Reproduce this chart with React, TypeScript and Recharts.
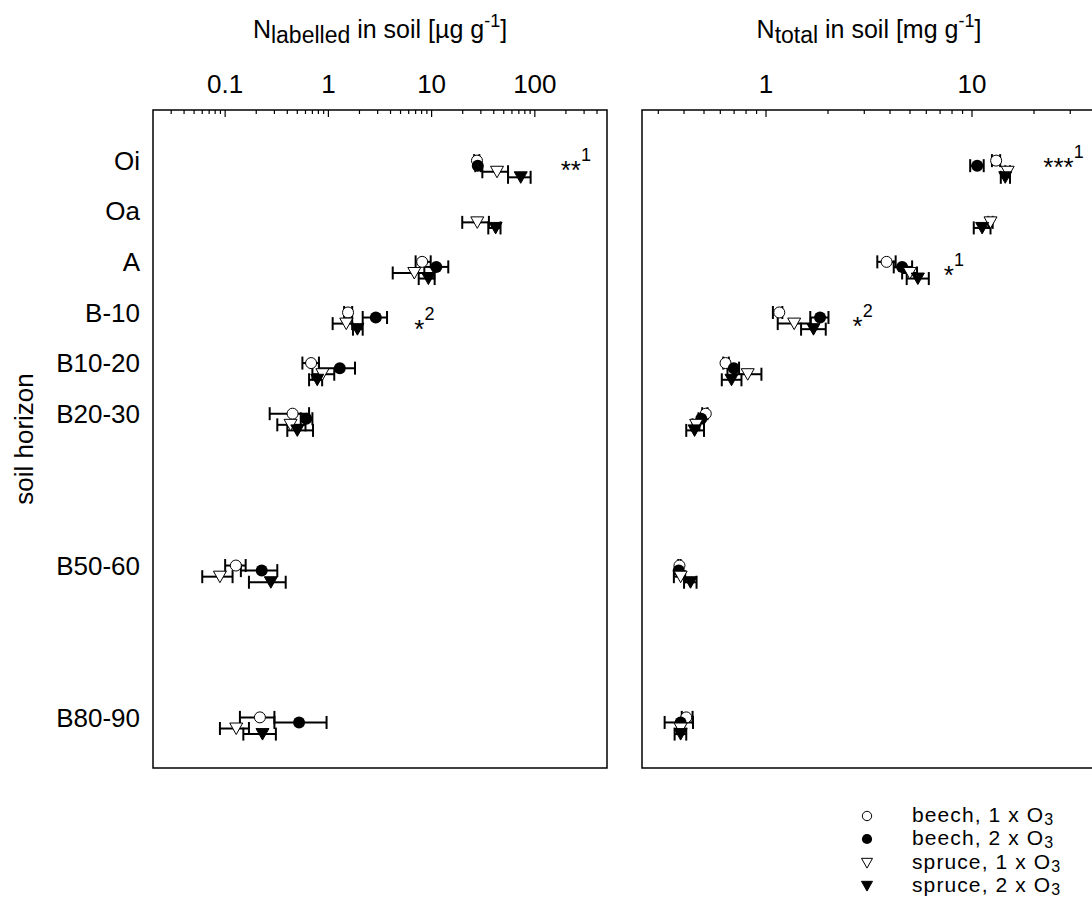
import { ErrorBar, ReferenceArea, Scatter, ScatterChart, XAxis, YAxis } from 'recharts';

const FONT = '"Liberation Sans", Arial, Helvetica, sans-serif';

// soil horizons and their position down the profile
const horizons = ['Oi', 'Oa', 'A', 'B-10', 'B10-20', 'B20-30', 'B50-60', 'B80-90'];
const horizonPos = [0, 1, 2, 3, 4, 5, 8, 11];

type Stat = [number, number, number] | null; // mean, lower, upper

// N labelled in soil [µg g-1]
const labBeech1: Stat[] = [[27.5, 25.8, 29], null, [8.1, 7.0, 9.8], [1.55, 1.42, 1.7], [0.68, 0.56, 0.81], [0.45, 0.27, 0.65], [0.127, 0.1, 0.158], [0.217, 0.139, 0.3]];
const labBeech2: Stat[] = [[28, 26.5, 30], null, [11.1, 8.5, 14.5], [2.88, 2.15, 3.7], [1.29, 0.81, 1.81], [0.61, 0.54, 0.7], [0.226, 0.142, 0.32], [0.52, 0.3, 0.96]];
const labSpruce1: Stat[] = [[43, 31, 55], [27.7, 19.8, 35.9], [6.8, 4.2, 10.6], [1.49, 1.1, 1.7], [0.875, 0.7, 1.14], [0.43, 0.32, 0.6], [0.089, 0.06, 0.118], [0.128, 0.089, 0.17]];
const labSpruce2: Stat[] = [[73, 55, 91], [41.7, 35.4, 46.5], [9.3, 7.5, 10.7], [1.91, 1.73, 2.15], [0.78, 0.65, 0.87], [0.5, 0.4, 0.71], [0.277, 0.17, 0.386], [0.23, 0.15, 0.31]];

// N total in soil [mg g-1]
const totBeech1: Stat[] = [[13.1, 12.5, 13.7], null, [3.85, 3.47, 4.26], [1.16, 1.08, 1.2], [0.636, 0.62, 0.66], [0.51, 0.49, 0.52], [0.38, 0.375, 0.385], [0.41, 0.39, 0.44]];
const totBeech2: Stat[] = [[10.6, 9.8, 11.4], null, [4.58, 4.17, 5.12], [1.83, 1.64, 2.01], [0.698, 0.65, 0.74], [0.485, 0.47, 0.5], [0.377, 0.37, 0.385], [0.385, 0.322, 0.442]];
const totSpruce1: Stat[] = [[14.9, 14.5, 15.3], [12.3, 12.0, 12.6], [4.99, 4.58, 5.41], [1.37, 1.14, 1.65], [0.815, 0.69, 0.95], [0.458, 0.44, 0.475], [0.385, 0.357, 0.405], [0.385, 0.37, 0.4]];
const totSpruce2: Stat[] = [[14.5, 13.8, 15.3], [11.2, 10.2, 12.3], [5.46, 4.82, 6.17], [1.7, 1.48, 1.95], [0.68, 0.61, 0.76], [0.45, 0.41, 0.5], [0.43, 0.4, 0.46], [0.385, 0.36, 0.41]];

const treatments = ['beech, 1 x O', 'beech, 2 x O', 'spruce, 1 x O', 'spruce, 2 x O'];
const rowShift = [0, 0.1, 0.22, 0.33];

const labMajor = [0.1, 1, 10, 100];
const totMajor = [1, 10];
const minorSteps = [2, 3, 4, 5, 6, 7, 8, 9];

// significance marks
const labNotes = [
  { x: 178, y: 0.06, stars: '**', sup: '1' },
  { x: 6.8, y: 3.2, stars: '*', sup: '2' },
];
const totNotes = [
  { x: 22.2, y: 0, stars: '***', sup: '1' },
  { x: 7.3, y: 2.15, stars: '*', sup: '1' },
  { x: 2.63, y: 3.15, stars: '*', sup: '2' },
];

function toPoints(stats: Stat[], s: number) {
  const out: { x: number; y: number; err: [number, number] }[] = [];
  stats.forEach((v, i) => {
    if (!v) return;
    out.push({ x: v[0], y: horizonPos[i] + rowShift[s], err: [v[0] - v[1], v[2] - v[0]] });
  });
  return out;
}

function minorTicks(lo: number, hi: number) {
  const res: number[] = [];
  for (let d = 0.01; d < 1000; d *= 10) {
    for (const m of minorSteps) {
      const v = +(d * m).toPrecision(3);
      if (v > lo && v < hi) res.push(v);
    }
  }
  return res;
}

function Marker({ cx, cy, kind, small }: { cx: number; cy: number; kind: number; small?: boolean }) {
  const k = small ? 0.85 : 1;
  if (kind === 0) return <circle cx={cx} cy={cy} r={5.5 * k} fill="#fff" stroke="#000" strokeWidth={1} />;
  if (kind === 1) return <circle cx={cx} cy={cy} r={6 * k} fill="#000" />;
  const w = 6.5 * k;
  const pts = `${cx - w},${cy - 5.5 * k} ${cx + w},${cy - 5.5 * k} ${cx},${cy + 6 * k}`;
  return <polygon points={pts} fill={kind === 2 ? '#fff' : '#000'} stroke="#000" strokeWidth={1} />;
}

const makeTick = (majors: number[]) => (props: any) => {
  const { x, y, payload } = props;
  const major = majors.includes(payload.value);
  return (
    <g>
      <line x1={x} x2={x} y1={y} y2={y + (major ? 7 : 4)} stroke="#000" strokeWidth={1.2} />
      {major && (
        <text x={x} y={y - 17} textAnchor="middle" fontSize={26} fontFamily={FONT} fill="#000">
          {payload.value}
        </text>
      )}
    </g>
  );
};

const makeTitle = (sub: string, unit: string) => (props: any) => {
  const vb = props.viewBox;
  return (
    <text x={vb.x + vb.width / 2} y={vb.y - 12} textAnchor="middle" fontSize={25} fontFamily={FONT} fill="#000">
      N<tspan dy={5} fontSize={23}>{sub}</tspan>
      <tspan dy={-5}>{` in soil [${unit} g`}</tspan>
      <tspan dy={-11} fontSize={18}>-1</tspan>
      <tspan dy={11}>]</tspan>
    </text>
  );
};

const noteShape = (props: any) => {
  const { cx, cy, payload } = props;
  return (
    <text x={cx} y={cy + 15} fontSize={26} fontFamily={FONT} fill="#000">
      {payload.stars}
      <tspan dy={-18} fontSize={18}>{payload.sup}</tspan>
    </text>
  );
};

type PanelProps = {
  stats: Stat[][];
  domain: [number, number];
  majors: number[];
  notes: { x: number; y: number; stars: string; sup: string }[];
  title: (p: any) => any;
  showY: boolean;
  width: number;
  margin: { top: number; right: number; bottom: number; left: number };
};

function Panel({ stats, domain, majors, notes, title, showY, width, margin }: PanelProps) {
  const ticks = [...majors, ...minorTicks(domain[0], domain[1])].sort((a, b) => a - b);
  return (
    <ScatterChart width={width} height={780} margin={margin}>
      <XAxis
        type="number"
        dataKey="x"
        scale="log"
        domain={domain}
        allowDataOverflow
        orientation="top"
        height={60}
        ticks={ticks}
        interval={0}
        tickSize={0}
        tickMargin={0}
        tickLine={false}
        axisLine={false}
        tick={makeTick(majors)}
        label={{ content: title }}
      />
      <YAxis
        type="number"
        dataKey="y"
        domain={[-1, 12]}
        reversed
        allowDataOverflow
        hide={!showY}
        width={153}
        ticks={horizonPos}
        interval={0}
        tickSize={0}
        tickMargin={13}
        tickLine={false}
        axisLine={false}
        tickFormatter={(v: number) => horizons[horizonPos.indexOf(v)] ?? ''}
        tick={{ fill: '#000', fontSize: 26, fontFamily: FONT }}
        label={{
          content: (p: any) => {
            const vb = p.viewBox;
            const cy = vb.y + vb.height / 2;
            return (
              <text x={24} y={cy} transform={`rotate(-90, 24, ${cy})`} textAnchor="middle" dominantBaseline="central" fontSize={26} fontFamily={FONT} fill="#000">
                soil horizon
              </text>
            );
          },
        }}
      />
      <ReferenceArea x1={domain[0]} x2={domain[1]} y1={-1} y2={12} fill="none" stroke="#000" strokeWidth={1.5} ifOverflow="visible" />
      {stats.map((st, s) => (
        <Scatter key={s} data={toPoints(st, s)} isAnimationActive={false} shape={(p: any) => <Marker cx={p.cx} cy={p.cy} kind={s} />}>
          <ErrorBar dataKey="err" direction="x" width={6.5} stroke="#000" strokeWidth={2} isAnimationActive={false} />
        </Scatter>
      ))}
      <Scatter data={notes} isAnimationActive={false} shape={noteShape} />
    </ScatterChart>
  );
}

export default function App() {
  return (
    <div style={{ position: 'absolute', left: 0, top: 0, width: 1092, height: 915, overflow: 'hidden', background: '#fff' }}>
      <div style={{ position: 'absolute', left: 0, top: 0 }}>
        <Panel
          stats={[labBeech1, labBeech2, labSpruce1, labSpruce2]}
          domain={[0.02, 500]}
          majors={labMajor}
          notes={labNotes}
          title={makeTitle('labelled', 'µg')}
          showY
          width={620}
          margin={{ top: 50, right: 13, bottom: 12, left: 0 }}
        />
      </div>
      <div style={{ position: 'absolute', left: 630, top: 0 }}>
        <Panel
          stats={[totBeech1, totBeech2, totSpruce1, totSpruce2]}
          domain={[0.25, 40]}
          majors={totMajor}
          notes={totNotes}
          title={makeTitle('total', 'mg')}
          showY={false}
          width={480}
          margin={{ top: 50, right: 14, bottom: 12, left: 12 }}
        />
      </div>
      <div style={{ position: 'absolute', left: 855, top: 804, fontFamily: FONT, fontSize: 21, color: '#000' }}>
        {treatments.map((t, i) => (
          <div key={t} style={{ display: 'flex', alignItems: 'center', height: 23.5 }}>
            <svg width={24} height={22} style={{ flex: 'none' }}>
              <Marker cx={12} cy={11} kind={i} small />
            </svg>
            <span style={{ marginLeft: 33, whiteSpace: 'nowrap', lineHeight: '20px', letterSpacing: 1.1 }}>
              {t}
              <span style={{ fontSize: 16, position: 'relative', top: 3 }}>3</span>
            </span>
          </div>
        ))}
      </div>
    </div>
  );
}
